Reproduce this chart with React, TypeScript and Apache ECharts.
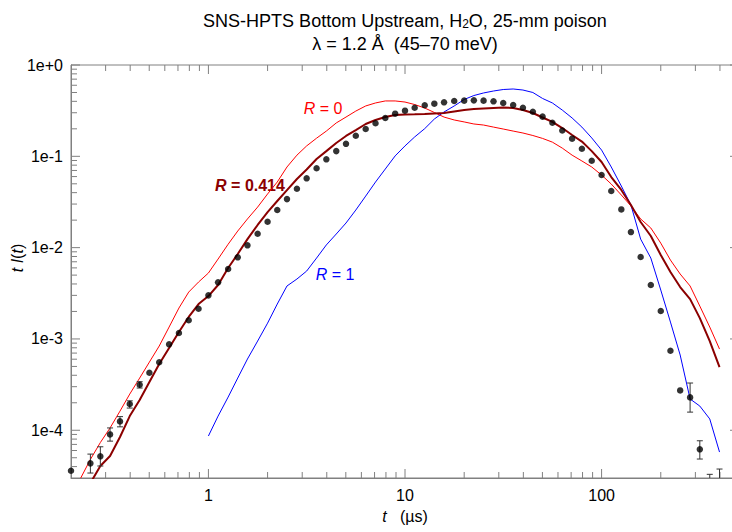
import React, { useEffect, useRef } from 'react';
import * as echarts from 'echarts';

// Time grid (µs), 20 points per decade
const times = [0.2, 0.224, 0.251, 0.282, 0.316, 0.355, 0.398, 0.447, 0.501, 0.562, 0.631, 0.708, 0.794, 0.891,
  1, 1.12, 1.26, 1.41, 1.58, 1.78, 2.0, 2.24, 2.51, 2.82, 3.16, 3.55, 3.98, 4.47, 5.01, 5.62, 6.31, 7.08, 7.94, 8.91,
  10, 11.2, 12.6, 14.1, 15.8, 17.8, 20.0, 22.4, 25.1, 28.2, 31.6, 35.5, 39.8, 44.7, 50.1, 56.2, 63.1, 70.8, 79.4, 89.1,
  100, 112, 126, 141, 158, 178, 200, 224, 251, 282, 316, 355, 398];

// Measured t·I(t)
const measured = [3.6e-5, null, 4.34e-5, 5.18e-5, 9.0e-5, 1.25e-4, 1.94e-4, 3.15e-4, 4.26e-4, 5.55e-4, 8.73e-4, 1.16e-3, 1.6e-3, 2.14e-3,
  3.0e-3, 4.17e-3, 5.83e-3, 7.83e-3, 1.06e-2, 1.42e-2, 1.92e-2, 2.58e-2, 3.4e-2, 4.42e-2, 5.74e-2, 7.39e-2, 9.27e-2, 0.114, 0.137, 0.168, 0.199, 0.230, 0.263, 0.293,
  0.316, 0.340, 0.362, 0.377, 0.390, 0.403, 0.407, 0.410, 0.407, 0.400, 0.383, 0.365, 0.340, 0.308, 0.272, 0.233, 0.192, 0.156, 0.121, 0.0895,
  0.0624, 0.0417, 0.0262, 0.0148, 7.9e-3, 3.9e-3, 2.02e-3, 7.43e-4, 2.73e-4, 2.29e-4, 6.18e-5, 2.0e-5, 2.5e-5];

// R = 0
const r0 = [null, 2.99e-5, 4.79e-5, 7.33e-5, 1.06e-4, 1.62e-4, 2.49e-4, 3.73e-4, 5.58e-4, 8.36e-4, 1.35e-3, 2.18e-3, 3.26e-3, 4.2e-3,
  5.27e-3, 7.5e-3, 1.09e-2, 1.52e-2, 2.06e-2, 2.78e-2, 3.87e-2, 5.23e-2, 7.64e-2, 0.103, 0.130, 0.158, 0.189, 0.232, 0.269, 0.313, 0.356, 0.384, 0.404, 0.404,
  0.393, 0.369, 0.338, 0.302, 0.269, 0.250, 0.238, 0.226, 0.220, 0.209, 0.199, 0.189, 0.180, 0.169, 0.157, 0.143, 0.123, 0.103, 0.0889, 0.0764,
  0.0624, 0.0497, 0.0377, 0.0286, 0.0206, 0.0164, 0.0112, 7.31e-3, 5.14e-3, 3.8e-3, 2.29e-3, 1.35e-3, 7.75e-4];

// R = 0.414
const r414 = [null, null, 2.64e-5, 4.06e-5, 5.22e-5, 8.43e-5, 1.43e-4, 2.14e-4, 3.37e-4, 5.31e-4, 7.94e-4, 1.19e-3, 1.74e-3, 2.41e-3,
  2.95e-3, 3.9e-3, 5.98e-3, 8.51e-3, 1.24e-2, 1.77e-2, 2.45e-2, 3.24e-2, 4.27e-2, 5.64e-2, 7.17e-2, 9.33e-2, 0.114, 0.140, 0.167, 0.194, 0.226, 0.250, 0.269, 0.283,
  0.287, 0.288, 0.290, 0.294, 0.298, 0.310, 0.322, 0.330, 0.334, 0.338, 0.342, 0.338, 0.322, 0.298, 0.266, 0.238, 0.204, 0.171, 0.145, 0.114,
  0.0866, 0.0593, 0.0428, 0.0293, 0.0191, 0.0134, 8.3e-3, 5.41e-3, 3.7e-3, 2.73e-3, 1.69e-3, 9.48e-4, 4.92e-4];

// R = 1
const r1 = [null, null, null, null, null, null, null, null, null, null, null, null, null, null,
  8.65e-5, 1.43e-4, 2.31e-4, 3.73e-4, 6.03e-4, 9.48e-4, 1.49e-3, 2.41e-3, 3.8e-3, 4.53e-3, 5.54e-3, 7.69e-3, 1.07e-2, 1.41e-2, 1.86e-2, 2.58e-2, 3.67e-2, 5.23e-2, 7.26e-2, 0.101,
  0.130, 0.163, 0.201, 0.256, 0.306, 0.356, 0.419, 0.463, 0.494, 0.519, 0.539, 0.546, 0.532, 0.500, 0.430, 0.384, 0.321, 0.263, 0.209, 0.159,
  0.117, 0.0764, 0.0473, 0.0293, 0.0124, 7.69e-3, 3.43e-3, 1.53e-3, 6.67e-4, 2.2e-4, 1.84e-4, 1.33e-4, 5.77e-5];

// Error bars
const errT = [0.251, 0.282, 0.316, 0.355, 0.398, 0.447, 282, 316, 355, 398];
const errLo = [3.4e-5, 4.06e-5, 7.6e-5, 1.09e-4, 1.75e-4, 2.9e-4, 1.58e-4, 4.84e-5, 1.2e-5, 1.6e-5];
const errHi = [5.48e-5, 6.59e-5, 1.06e-4, 1.41e-4, 2.1e-4, 3.4e-4, 3.29e-4, 7.67e-5, 3.29e-5, 3.76e-5];

// Axis ticks / labels
const xTickValues = [1, 10, 100];
const xTickLabels = ['1', '10', '100'];
const yTickValues = [1, 0.1, 0.01, 0.001, 0.0001];
const yTickLabels = ['1e+0', '1e-1', '1e-2', '1e-3', '1e-4'];
const minorMult = [2, 3, 4, 5, 6, 7, 8, 9];
const xDecades = [0.1, 1, 10, 100];
const yDecades = [1e-5, 1e-4, 1e-3, 1e-2, 1e-1];

const X_MIN = 0.2, X_MAX = 500, Y_MIN = 3e-5, Y_MAX = 1;
const FONT = '"Liberation Sans", Arial, Helvetica, sans-serif';
const AXIS_GREY = '#808080';

function pairs(arr: (number | null)[]) {
  const out: number[][] = [];
  arr.forEach((v, i) => { if (v != null) out.push([times[i], v]); });
  return out;
}

function labelFor(v: number, vals: number[], labels: string[]) {
  for (let i = 0; i < vals.length; i++) {
    if (Math.abs(v - vals[i]) / vals[i] < 1e-6) return labels[i];
  }
  return '';
}

export default function App() {
  const ref = useRef<HTMLDivElement>(null);
  useEffect(() => {
    const chart = echarts.init(ref.current!, null, { renderer: 'svg' });

    const xTicks: number[][] = [];
    xDecades.forEach(d => {
      if (d * 10 > X_MIN && d * 10 < X_MAX) xTicks.push([d * 10, 1, 9]);
      minorMult.forEach(m => {
        const v = d * m;
        if (v > X_MIN * 1.001 && v < X_MAX * 0.999) xTicks.push([v, 1, 6]);
      });
    });
    const yTicks: number[][] = [];
    yDecades.forEach(d => {
      if (d * 10 >= Y_MIN && d * 10 <= Y_MAX) yTicks.push([1, d * 10, 9]);
      minorMult.forEach(m => {
        const v = d * m;
        if (v > Y_MIN * 1.001 && v < Y_MAX * 0.999) yTicks.push([1, v, 6]);
      });
    });

    const tickStyle = { stroke: AXIS_GREY, lineWidth: 1 };
    const tinyRich = (color: string, bold = false, size = 16) => ({
      i: { fontStyle: 'italic', fontWeight: bold ? 'bold' : 'normal', fontSize: size, fontFamily: FONT, fill: color, color },
      n: { fontStyle: 'normal', fontWeight: bold ? 'bold' : 'normal', fontSize: size, fontFamily: FONT, fill: color, color },
    });

    const option: any = {
      animation: false,
      backgroundColor: '#ffffff',
      grid: {
        left: 71, top: 65, right: -7, bottom: 54,
        show: true, borderColor: AXIS_GREY, borderWidth: 1,
        containLabel: false, outerBoundsMode: 'none',
      },
      xAxis: {
        type: 'log', logBase: 10, min: X_MIN, max: X_MAX,
        axisLine: { show: true, lineStyle: { color: AXIS_GREY, width: 1 } },
        axisTick: { show: false }, minorTick: { show: false },
        splitLine: { show: false }, minorSplitLine: { show: false },
        axisLabel: {
          formatter: (v: number) => labelFor(v, xTickValues, xTickLabels),
          color: '#000', fontSize: 16, fontFamily: FONT, margin: 9,
          showMinLabel: true, showMaxLabel: true, hideOverlap: false,
        },
      },
      yAxis: {
        type: 'log', logBase: 10, min: Y_MIN, max: Y_MAX,
        axisLine: { show: true, lineStyle: { color: AXIS_GREY, width: 1 } },
        axisTick: { show: false }, minorTick: { show: false },
        splitLine: { show: false }, minorSplitLine: { show: false },
        axisLabel: {
          formatter: (v: number) => labelFor(v, yTickValues, yTickLabels),
          color: '#000', fontSize: 16, fontFamily: FONT, margin: 8,
          showMinLabel: true, showMaxLabel: true, hideOverlap: false,
        },
      },
      graphic: [
        {
          type: 'text', x: 405, y: 19, silent: true,
          style: {
            text: '{a|SNS-HPTS Bottom Upstream, H}{s|2}{a|O, 25-mm poison}',
            align: 'center', verticalAlign: 'middle',
            rich: {
              a: { fontSize: 18, fontFamily: FONT, fill: '#000', lineHeight: 22, verticalAlign: 'bottom' },
              s: { fontSize: 12, fontFamily: FONT, fill: '#000', lineHeight: 10, verticalAlign: 'bottom' },
            },
          },
        },
        {
          type: 'text', x: 405, y: 44, silent: true,
          style: {
            text: 'λ = 1.2 Å\u00a0\u00a0(45–70 meV)',
            align: 'center', verticalAlign: 'middle',
            fontSize: 18, fontFamily: FONT, fill: '#000',
          },
        },
        {
          type: 'text', x: 17, y: 258, rotation: Math.PI / 2, silent: true,
          style: {
            text: '{i|t }{i|I}{n|(}{i|t}{n|)}',
            align: 'center', verticalAlign: 'middle',
            rich: tinyRich('#000'),
          },
        },
        {
          type: 'text', x: 405, y: 516, silent: true,
          style: {
            text: '{i|t}{n|\u00a0\u00a0\u00a0(µs)}',
            align: 'center', verticalAlign: 'middle',
            rich: tinyRich('#000'),
          },
        },
        {
          type: 'text', x: 323, y: 108, silent: true,
          style: { text: '{i|R}{n| = 0}', align: 'center', verticalAlign: 'middle', rich: tinyRich('#ff0000') },
        },
        {
          type: 'text', x: 250, y: 185, silent: true,
          style: { text: '{i|R}{n| = 0.414}', align: 'center', verticalAlign: 'middle', rich: tinyRich('#8b0000', true) },
        },
        {
          type: 'text', x: 335, y: 274, silent: true,
          style: { text: '{i|R}{n| = 1}', align: 'center', verticalAlign: 'middle', rich: tinyRich('#0000ff') },
        },
      ],
      series: [
        {
          type: 'custom', name: 'xticks', silent: true, clip: false,
          dimensions: ['v', 'w', 'len'], encode: { x: 0, y: 1 },
          data: xTicks,
          renderItem: (params: any, api: any) => {
            const cs = params.coordSys;
            const x = api.coord([api.value(0), 1])[0];
            const len = api.value(2);
            return {
              type: 'group', children: [
                { type: 'line', shape: { x1: x, y1: cs.y + cs.height, x2: x, y2: cs.y + cs.height - len }, style: tickStyle },
                { type: 'line', shape: { x1: x, y1: cs.y, x2: x, y2: cs.y + len }, style: tickStyle },
              ],
            };
          },
        },
        {
          type: 'custom', name: 'yticks', silent: true, clip: false,
          dimensions: ['w', 'v', 'len'], encode: { x: 0, y: 1 },
          data: yTicks,
          renderItem: (params: any, api: any) => {
            const cs = params.coordSys;
            const y = api.coord([1, api.value(1)])[1];
            const len = api.value(2);
            return {
              type: 'group', children: [
                { type: 'line', shape: { x1: cs.x, y1: y, x2: cs.x + len, y2: y }, style: tickStyle },
                { type: 'line', shape: { x1: cs.x + cs.width, y1: y, x2: cs.x + cs.width - len, y2: y }, style: tickStyle },
              ],
            };
          },
        },
        {
          type: 'line', name: 'R = 0', data: pairs(r0), showSymbol: false, symbol: 'none',
          lineStyle: { color: '#ff0000', width: 1 }, itemStyle: { color: '#ff0000' }, z: 2,
        },
        {
          type: 'line', name: 'R = 1', data: pairs(r1), showSymbol: false, symbol: 'none',
          lineStyle: { color: '#0000ff', width: 1 }, itemStyle: { color: '#0000ff' }, z: 2,
        },
        {
          type: 'line', name: 'R = 0.414', data: pairs(r414), showSymbol: false, symbol: 'none',
          lineStyle: { color: '#8b0000', width: 2 }, itemStyle: { color: '#8b0000' }, z: 3,
        },
        {
          type: 'custom', name: 'errors', silent: true, clip: true,
          dimensions: ['t', 'lo', 'hi'], encode: { x: 0, y: [1, 2] },
          data: errT.map((t, i) => [t, errLo[i], errHi[i]]),
          z: 4,
          renderItem: (params: any, api: any) => {
            const lo = api.coord([api.value(0), api.value(1)]);
            const hi = api.coord([api.value(0), api.value(2)]);
            const w = 3;
            const st = { stroke: '#333333', lineWidth: 1 };
            return {
              type: 'group', children: [
                { type: 'line', shape: { x1: lo[0], y1: lo[1], x2: hi[0], y2: hi[1] }, style: st },
                { type: 'line', shape: { x1: lo[0] - w, y1: lo[1], x2: lo[0] + w, y2: lo[1] }, style: st },
                { type: 'line', shape: { x1: hi[0] - w, y1: hi[1], x2: hi[0] + w, y2: hi[1] }, style: st },
              ],
            };
          },
        },
        {
          type: 'scatter', name: 'measured', data: pairs(measured), symbol: 'circle', symbolSize: 6.5,
          itemStyle: { color: '#000000' }, z: 5, clip: true,
        },
      ],
    };

    chart.setOption(option);
    return () => chart.dispose();
  }, []);

  return <div ref={ref} style={{ position: 'absolute', left: 0, top: 0, width: 732, height: 532, background: '#fff' }} />;
}
